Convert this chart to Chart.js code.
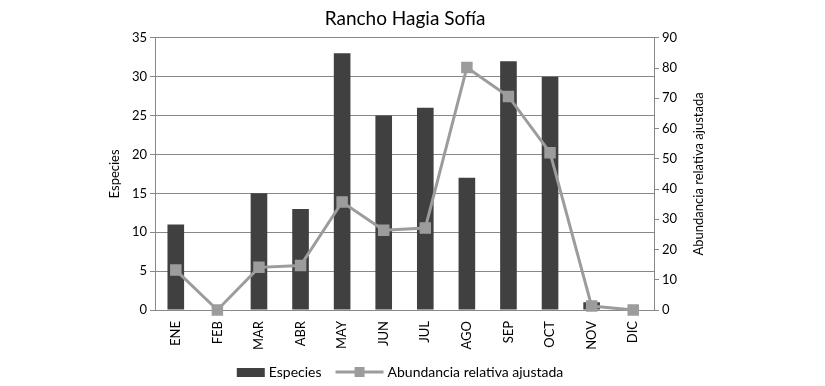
<!DOCTYPE html>
<html>
<head>
<meta charset="utf-8">
<script src="https://cdn.jsdelivr.net/npm/chart.js@4"></script>
<style>
  body { margin: 0; background: #fff; }
  #wrap { width: 825px; height: 386px; }
</style>
</head>
<body>
<div id="wrap"><canvas id="myChart" width="825" height="386"></canvas></div>
<script>
var meses = ['ENE', 'FEB', 'MAR', 'ABR', 'MAY', 'JUN', 'JUL', 'AGO', 'SEP', 'OCT', 'NOV', 'DIC'];
var especies = [11, 0, 15, 13, 33, 25, 26, 17, 32, 30, 1, 0];
var abundancia = [13.2, 0, 14.1, 14.7, 35.7, 26.4, 27.1, 80.2, 70.6, 52.0, 1.3, 0];

var fuente = 'Lato, "Open Sans", sans-serif';
var colorBarra = '#404040';
var colorLinea = '#9c9c9c';

// right axis title reads bottom to top, like the left one
var tituloDerecho = {
    id: 'tituloDerecho',
    afterDraw: function(chart) {
        var s = chart.scales.y1;
        var c = chart.ctx;
        c.save();
        c.translate(s.right - 6, (s.top + s.bottom) / 2);
        c.rotate(-Math.PI / 2);
        c.fillStyle = '#000';
        c.font = '13px ' + fuente;
        c.textAlign = 'center';
        c.textBaseline = 'middle';
        c.fillText('Abundancia relativa ajustada', 0, 0);
        c.restore();
    }
};

// legend like the original: box for bars, line with square for the line
var leyenda = {
    id: 'leyenda',
    afterDraw: function(chart) {
        var c = chart.ctx;
        var ds = chart.data.datasets;
        var y = 372;
        c.save();
        c.font = '14px ' + fuente;
        c.textBaseline = 'middle';
        var w0 = c.measureText(ds[0].label).width;
        var w1 = c.measureText(ds[1].label).width;
        var total = 28 + 4 + w0 + 14 + 48 + 4 + w1;
        var x = 400 - total / 2;
        c.fillStyle = colorBarra;
        c.fillRect(x, y - 4, 28, 9);
        x += 32;
        c.fillStyle = '#000';
        c.fillText(ds[0].label, x, y);
        x += w0 + 14;
        c.strokeStyle = colorLinea;
        c.lineWidth = 3;
        c.beginPath();
        c.moveTo(x, y);
        c.lineTo(x + 48, y);
        c.stroke();
        c.fillStyle = colorLinea;
        c.fillRect(x + 19, y - 5, 10, 10);
        x += 52;
        c.fillStyle = '#000';
        c.fillText(ds[1].label, x, y);
        c.restore();
    }
};

var ctx = document.getElementById('myChart').getContext('2d');
var chart = new Chart(ctx, {
    type: 'bar',
    data: {
        labels: meses,
        datasets: [{
                label: 'Especies',
                data: especies,
                backgroundColor: colorBarra,
                borderColor: colorBarra,
                barPercentage: 0.4,
                categoryPercentage: 1,
                yAxisID: 'y',
                order: 2
            },
            {
                label: 'Abundancia relativa ajustada',
                type: 'line',
                data: abundancia,
                borderColor: colorLinea,
                backgroundColor: colorLinea,
                borderWidth: 3,
                pointStyle: 'rect',
                pointRadius: 6,
                pointHoverRadius: 6,
                fill: false,
                tension: 0,
                clip: false,
                yAxisID: 'y1',
                order: 1
            }
        ]
    },
    options: {
        responsive: false,
        animation: false,
        layout: { padding: { left: 105, right: 120, top: 1, bottom: 31 } },
        plugins: {
            title: {
                display: true,
                text: 'Rancho Hagia Sofía',
                color: '#000',
                font: { family: fuente, size: 19, weight: 'normal' },
                padding: { top: 6, bottom: 8 }
            },
            legend: { display: false },
            tooltip: { enabled: false }
        },
        scales: {
            x: {
                grid: { display: false },
                border: { color: '#888' },
                ticks: {
                    color: '#000',
                    font: { family: fuente, size: 13 },
                    maxRotation: 90,
                    minRotation: 90
                },
                afterFit: function(scale) { scale.height = 45; }
            },
            y: {
                position: 'left',
                min: 0,
                max: 35,
                ticks: { stepSize: 5, color: '#000', font: { family: fuente, size: 13 } },
                grid: { color: '#888', lineWidth: 1, tickLength: 5 },
                border: { color: '#888' },
                title: {
                    display: true,
                    text: 'Especies',
                    color: '#000',
                    font: { family: fuente, size: 13 },
                    padding: 2
                },
                afterFit: function(scale) { scale.width = 50; }
            },
            y1: {
                position: 'right',
                min: 0,
                max: 90,
                ticks: { stepSize: 10, color: '#000', font: { family: fuente, size: 13 } },
                grid: { drawOnChartArea: false, color: '#888', tickLength: 5 },
                border: { color: '#888' },
                afterFit: function(scale) { scale.width = 51; }
            }
        }
    },
    plugins: [tituloDerecho, leyenda]
});
</script>
</body>
</html>
